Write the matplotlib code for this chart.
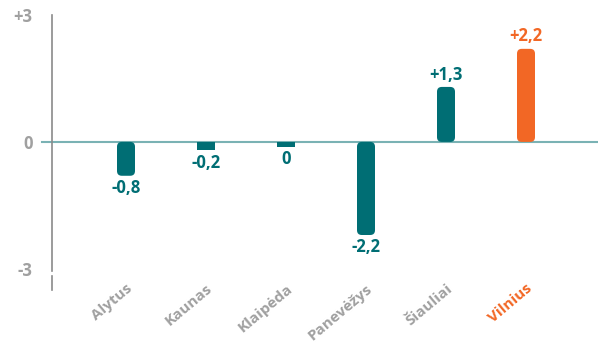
import matplotlib
matplotlib.use("Agg")
import matplotlib.pyplot as plt
from matplotlib.patches import FancyBboxPatch
from matplotlib.transforms import ScaledTranslation
import numpy as np

cities = ["Alytus", "Kaunas", "Klaipėda", "Panevėžys", "Šiauliai", "Vilnius"]
values = [-0.8, -0.2, 0.0, -2.2, 1.3, 2.2]
value_labels = ["-0,8", "-0,2", "0", "-2,2", "+1,3", "+2,2"]
ytick_vals = [3, 0, -3]
ytick_labels = ["+3", "0", "-3"]

TEAL = "#006e74"
ORANGE = "#f26725"
GREY = "#a0a0a0"
highlight = "Vilnius"

plt.rcParams['font.family'] = ['Open Sans', 'DejaVu Sans']

W, H = 598, 350
fig = plt.figure(figsize=(W / 100, H / 100), dpi=100)
ax = fig.add_axes([52 / W, (H - 290) / H, (W - 52) / W, 275 / H])
ax.set_xlim(-0.925, 5.9)
ax.set_ylim(-3.5, 3.0)

x = np.arange(len(cities))
colors = [ORANGE if c == highlight else TEAL for c in cities]
stub = -0.12
heights = [v if v != 0 else stub for v in values]
bars = ax.bar(x, heights, width=0.225, color=colors)

# replace bars with rounded versions
ppx = 80.0
ppy = 275 / 6.5
for b, v, c in zip(bars, heights, colors):
    bx, by = b.get_x(), b.get_y()
    bw, bh = b.get_width(), b.get_height()
    b.set_visible(False)
    r = 0.06 if abs(v) > 0.5 else 0.0
    p = FancyBboxPatch((bx, min(by, by + bh)), bw, abs(bh),
                       boxstyle=f"round,pad=0,rounding_size={r}" if r else "square,pad=0",
                       mutation_aspect=ppx / ppy, fc=c, ec="none", zorder=3)
    ax.add_patch(p)

# zero line
ax.plot([-1.05, 5.9], [0, 0], color="#7ab2b4", lw=1.5, clip_on=False, zorder=2)

# value labels
for xi, v, lab, c in zip(x, heights, value_labels, colors):
    if v > 0:
        ax.text(xi, v + 0.08, lab, ha="center", va="bottom", color=c,
                fontsize=12, fontweight="bold")
    else:
        ax.text(xi, v - 0.08, lab, ha="center", va="top", color=c,
                fontsize=12, fontweight="bold")

# axis
for s in ["top", "right", "bottom", "left"]:
    ax.spines[s].set_visible(False)
ax.plot([-0.925, -0.925], [-3.05, 3.0], color="#8a8a8a", lw=1.2, clip_on=False)
ax.plot([-0.925, -0.925], [-3.18, -3.5], color="#8a8a8a", lw=1.2, clip_on=False)

ax.set_yticks(ytick_vals)
ax.set_yticklabels(ytick_labels, fontsize=12, color=GREY, fontweight="bold")
ax.tick_params(axis="y", length=0, pad=14)

ax.set_xticks(x)
ax.set_xticklabels(cities, rotation=40, ha="right", rotation_mode="anchor",
                   fontsize=11, fontweight="bold")
shift = ScaledTranslation(-5 / 100, 0, fig.dpi_scale_trans)
for lbl, c in zip(ax.get_xticklabels(), cities):
    lbl.set_color(ORANGE if c == highlight else GREY)
    lbl.set_transform(lbl.get_transform() + shift)
ax.tick_params(axis="x", length=0, pad=-6)

fig.savefig("out.png", dpi=100)
